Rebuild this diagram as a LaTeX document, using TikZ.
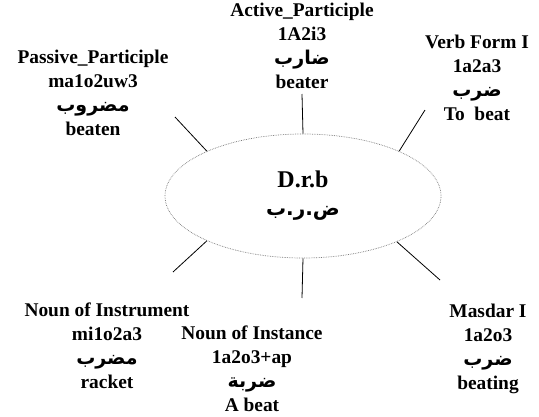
\documentclass[tikz,border=0pt]{standalone}
\usepackage{fontspec}
\setmainfont{Liberation Serif}
\newfontfamily\arabicfont[Script=Arabic]{DejaVu Sans}
\usepackage{xcolor}
\usepackage{tikz}
\usetikzlibrary{shapes.geometric}
\TeXXeTstate=1
\definecolor{ink}{HTML}{000000}
\definecolor{rim}{HTML}{7A7A7A}
\newcommand{\arw}[2][19]{{\arabicfont\bfseries\fontsize{#1}{24}\selectfont\beginR #2\endR}}
\tikzset{
  root/.style={draw=rim, densely dotted, line width=0.7pt, ellipse, minimum width=276pt, minimum height=124pt, inner sep=0pt, align=center, font=\bfseries\fontsize{24}{28}\selectfont},
  spoke/.style={draw=ink, line width=0.8pt},
  lab/.style={text=ink, align=center, font=\bfseries\fontsize{19.4}{24}\selectfont},
}

\begin{document}
\begin{tikzpicture}[x=1pt,y=-1pt]
  \useasboundingbox (0,0) rectangle (539,416);
  \node[root] (drb) at (303,196) {D.r.b\\{\arabicfont\fontsize{20}{28}\selectfont\beginR ض.ر.ب\endR}};
  % derived forms
  \node[lab] (act) at (302,46) {Active\_Participle\\1A2i3\\\arw{ضارب}\\beater};
  \node[lab] (verb) at (477,78) {Verb Form I\\1a2a3\\\arw{ضرب}\\To~ beat};
  \node[lab] (pas) at (93,93) {Passive\_Participle\\ma1o2uw3\\\arw{مضروب}\\beaten};
  \node[lab] (ins) at (107,346) {Noun of Instrument\\mi1o2a3\\\arw{مضرب}\\racket};
  \node[lab] (inc) at (252,369) {Noun of Instance\\1a2o3+ap\\\arw{ضربة}\\A beat};
  \node[lab] (mas) at (488,349) {Masdar I\\1a2o3\\\arw{ضرب}\\beating};
  % free ends of the spokes
  \coordinate (eAct) at (302,94);
  \coordinate (eVerb) at (425,110);
  \coordinate (ePas) at (175,117);
  \coordinate (eIns) at (173,272);
  \coordinate (eInc) at (302,298);
  \coordinate (eMas) at (440,280);
  \foreach \a/\e in {90/eAct,25/eVerb,155.6/ePas,205.4/eIns,270/eInc,334/eMas}
    \draw[spoke] (drb.\a) -- (\e);
\end{tikzpicture}
\end{document}
